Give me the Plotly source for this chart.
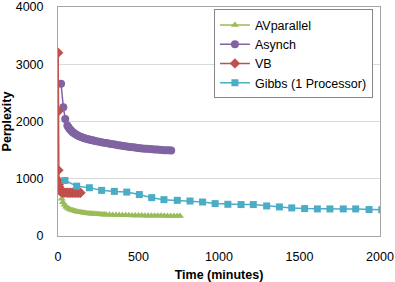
import plotly.graph_objects as go

# ---- data ----
av_t = [23, 30, 40, 50, 60, 70, 80, 90, 100, 110, 120, 130, 140, 150, 160, 170, 180, 190,
        200, 210, 220, 230, 240, 250, 260, 270, 280, 290, 300, 320, 340, 360, 380, 400,
        420, 440, 460, 480, 500, 520, 540, 560, 580, 600, 620, 640, 660, 680, 700, 720,
        740, 758]
av_y = [650, 590, 545, 510, 490, 472, 460, 450, 440, 432, 425, 420, 415, 410, 405, 401,
        398, 395, 392, 390, 387, 385, 383, 381, 379, 377, 375, 374, 372, 370, 368, 367,
        365, 364, 362, 361, 360, 358, 357, 356, 355, 354, 354, 353, 353, 352, 352, 351,
        351, 350, 350, 350]

as_t = [19, 33, 45, 58, 65, 72, 80, 88, 96, 105, 115, 125, 135, 145, 155, 165, 175, 185,
        195, 205, 215, 225, 240, 255, 270, 285, 300, 315, 330, 345, 360, 375, 390, 405,
        420, 435, 450, 465, 480, 495, 510, 525, 540, 555, 570, 585, 600, 615, 630, 645,
        660, 675, 690, 703]
as_y = [2660, 2250, 2045, 1930, 1900, 1870, 1845, 1822, 1803, 1785, 1768, 1752, 1740, 1728,
        1716, 1706, 1698, 1690, 1684, 1678, 1671, 1665, 1655, 1647, 1639, 1631, 1624, 1616,
        1609, 1601, 1594, 1587, 1580, 1573, 1566, 1560, 1555, 1550, 1544, 1539, 1534, 1530,
        1526, 1522, 1518, 1515, 1512, 1509, 1506, 1503, 1500, 1498, 1496, 1495]

vb_t = [1, 2, 3, 4, 5, 6, 8, 10, 12, 15, 18, 22, 26, 30, 35, 40, 50, 60, 70, 80, 90, 100,
        110, 120, 130, 140]
vb_y = [3200, 2180, 1150, 960, 900, 860, 830, 810, 795, 785, 775, 770, 765, 762, 760, 758,
        757, 756, 756, 755, 755, 755, 755, 755, 755, 755]

gb_t = [43, 116, 195, 271, 350, 427, 505, 582, 658, 741, 820, 898, 976, 1055, 1137, 1213,
        1296, 1375, 1452, 1532, 1611, 1689, 1772, 1849, 1932, 2011]
gb_y = [970, 871, 843, 797, 779, 767, 724, 670, 635, 623, 611, 594, 566, 554, 549, 549,
        525, 508, 491, 479, 473, 473, 473, 473, 462, 458]

x_ticks = [0, 500, 1000, 1500, 2000]
y_ticks = [0, 1000, 2000, 3000, 4000]

FONT = "Liberation Sans"
FS = 12.5

fig = go.Figure()
fig.add_trace(go.Scatter(x=av_t, y=av_y, name="AVparallel", mode="lines+markers",
                         line=dict(color="#9BBB59", width=1.5),
                         marker=dict(symbol="triangle-up", size=7, color="#9BBB59")))
fig.add_trace(go.Scatter(x=as_t, y=as_y, name="Asynch", mode="lines+markers",
                         line=dict(color="#8064A2", width=1.5),
                         marker=dict(symbol="circle", size=8, color="#8064A2")))
fig.add_trace(go.Scatter(x=vb_t, y=vb_y, name="VB", mode="lines+markers",
                         line=dict(color="#C0504D", width=1.5),
                         marker=dict(symbol="diamond", size=8, color="#C0504D")))
fig.add_trace(go.Scatter(x=gb_t, y=gb_y, name="Gibbs (1 Processor)", mode="lines+markers",
                         line=dict(color="#4BACC6", width=1.5),
                         marker=dict(symbol="square", size=7, color="#4BACC6")))

fig.update_layout(
    width=395, height=282,
    margin=dict(l=58, r=15, t=7, b=46, autoexpand=False),
    paper_bgcolor="white", plot_bgcolor="white",
    font=dict(family=FONT, size=FS, color="black"),
    showlegend=True,
    legend=dict(x=0.978, y=0.99, xanchor="right", yanchor="top",
                bordercolor="#868686", borderwidth=1, bgcolor="white",
                font=dict(size=FS), itemwidth=30, tracegroupgap=0),
    xaxis=dict(range=[0, 2000], tickvals=x_ticks, showgrid=False, zeroline=False,
               showline=True, linecolor="#A6A6A6", mirror=True, automargin=False,
               ticks="outside", ticklen=9, tickcolor="rgba(0,0,0,0)",
               ticklabeloverflow="allow",
               title=dict(text="<b>Time (minutes)</b>", standoff=9, font=dict(size=FS))),
    yaxis=dict(range=[0, 4000], tickvals=y_ticks, showgrid=True, gridcolor="#D9D9D9",
               zeroline=False, showline=True, linecolor="#A6A6A6", mirror=True,
               automargin=False, ticklabeloverflow="allow",
               ticks="outside", ticklen=11, tickcolor="rgba(0,0,0,0)",
               title=dict(text="<b>Perplexity</b>", standoff=4, font=dict(size=FS))),
)

fig.write_html("out.html", config={"displayModeBar": False},
               post_script="document.body.style.margin='0';document.body.style.overflow='hidden';")
